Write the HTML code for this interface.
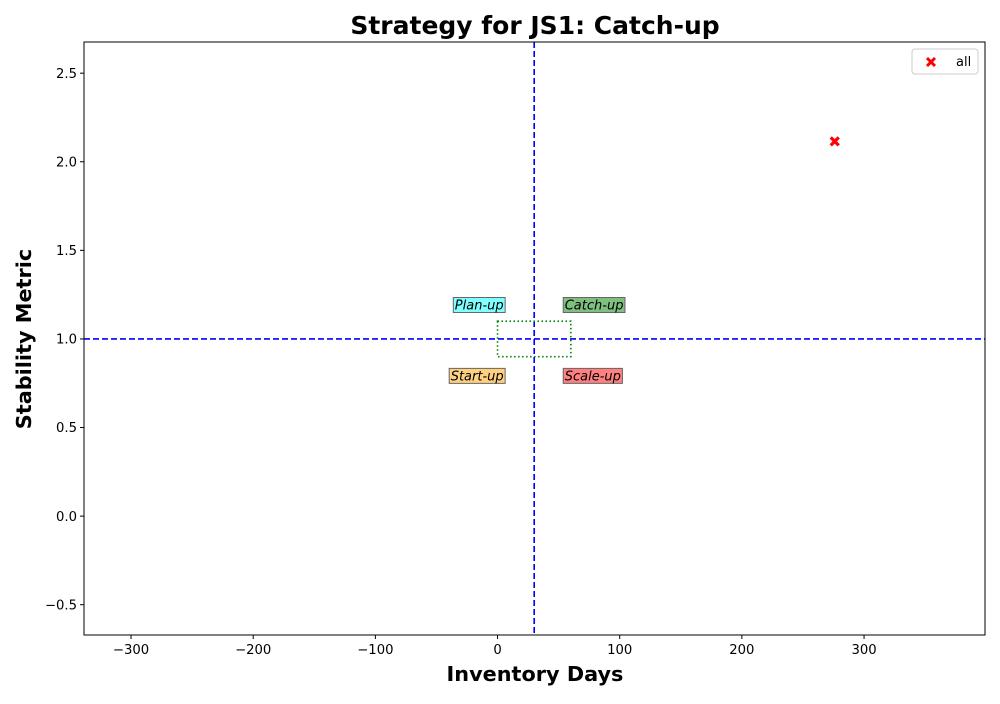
<!DOCTYPE html>
<html><head><meta charset="utf-8"><style>
body{margin:0;background:#fff;font-family:"DejaVu Sans","Liberation Sans",sans-serif}
svg text{font-family:"DejaVu Sans","Liberation Sans",sans-serif}
</style></head><body>
<svg id="chart" width="1000" height="700" xmlns="http://www.w3.org/2000/svg"></svg>
<script>
const xTicks=[-300,-200,-100,0,100,200,300];
const yTicks=[-0.5,0.0,0.5,1.0,1.5,2.0,2.5];
const yTickLabels=["\u22120.5","0.0","0.5","1.0","1.5","2.0","2.5"];
const xTickLabels=["\u2212300","\u2212200","\u2212100","0","100","200","300"];
const pointsX=[276];
const pointsY=[2.115];
const vLineX=30, hLineY=1.0;
const boxX=[0,60], boxY=[0.9,1.1];
const quadLabels=["Plan-up","Catch-up","Start-up","Scale-up"];
const quadX=[5,55,5,55];
const quadY=[1.2,1.2,0.8,0.8];
const quadColors=["#7fffff","#7fbf7f","#ffd080","#ff8080"];

const L=84,R=985,T=42,B=635;
const xMin=-338.5,xMax=399.0,yMin=-0.671,yMax=2.676;
const sx=v=>L+(v-xMin)/(xMax-xMin)*(R-L);
const sy=v=>B-(v-yMin)/(yMax-yMin)*(B-T);
const svg=document.getElementById('chart');
const NS='http://www.w3.org/2000/svg';
function mk(tag,attrs,parent){const e=document.createElementNS(NS,tag);for(const k in attrs)e.setAttribute(k,attrs[k]);(parent||svg).appendChild(e);return e;}

let t=mk('text',{x:535,y:34,'text-anchor':'middle','font-size':25,'font-weight':'bold'});
t.textContent='Strategy for JS1: Catch-up';



xTicks.forEach((v,i)=>{const x=sx(v);
 const l=mk('line',{x1:x,x2:x,y1:B,y2:B+4,stroke:'#000'});
 
 
 const tx=mk('text',{x:x,y:B+19,'text-anchor':'middle','font-size':13.2});
 tx.textContent=xTickLabels[i];
 
 
});
yTicks.forEach((v,i)=>{const y=sy(v);
 const l=mk('line',{x1:L-4,x2:L,y1:y,y2:y,stroke:'#000'});
 
 
 const tx=mk('text',{x:L-7,y:y+4.7,'text-anchor':'end','font-size':13.2});
 tx.textContent=yTickLabels[i];
 
 
});
t=mk('text',{x:535,y:681,'text-anchor':'middle','font-size':20.8,'font-weight':'bold'});
t.textContent='Inventory Days';


t=mk('text',{x:0,y:0,'text-anchor':'middle','font-size':20.8,'font-weight':'bold',transform:'translate(31,339) rotate(-90)'});
t.textContent='Stability Metric';



let e=mk('line',{x1:sx(vLineX),x2:sx(vLineX),y1:T,y2:B,stroke:'#0000ff','stroke-width':1.6,'stroke-dasharray':'6,3'});


e=mk('line',{x1:L,x2:R,y1:sy(hLineY),y2:sy(hLineY),stroke:'#0000ff','stroke-width':1.6,'stroke-dasharray':'6,3'});


e=mk('rect',{x:sx(boxX[0]),y:sy(boxY[1]),width:sx(boxX[1])-sx(boxX[0]),height:sy(boxY[0])-sy(boxY[1]),fill:'none',stroke:'#008000','stroke-width':1.6,'stroke-dasharray':'1.5,2.5'});



quadLabels.forEach((s,i)=>{
 const g=mk('g',{});
 
 
 const tx=mk('text',{x:0,y:sy(quadY[i])+6,'font-size':13,'font-style':'italic'},g);
 tx.textContent=s;
 const w=tx.getComputedTextLength();
 const right=i%2===0;
 const x0=right?sx(quadX[i])-w:sx(quadX[i]);
 tx.setAttribute('x',x0);
 const r=mk('rect',{x:x0-1.5,y:sy(quadY[i])-6,width:w+3,height:15,fill:quadColors[i],stroke:'#666','stroke-width':1});
 g.insertBefore(r,tx);
});

pointsX.forEach((v,i)=>{const x=sx(v),y=sy(pointsY[i]);
 const p=mk('path',{d:`M${x-4} ${y-4}L${x+4} ${y+4}M${x+4} ${y-4}L${x-4} ${y+4}`,stroke:'#ff0000','stroke-width':3.2});
 
 
});

e=mk('rect',{x:L,y:T,width:R-L,height:B-T,fill:'none',stroke:'#000','stroke-width':1});



const lg=mk('g',{});


mk('rect',{x:912,y:49,width:66,height:25,rx:3,fill:'#fff',stroke:'#ccc'},lg);
mk('path',{d:'M927 58L935 66M935 58L927 66',stroke:'#ff0000','stroke-width':3},lg);
const lt=mk('text',{x:956,y:66,'font-size':13},lg);lt.textContent='all';
</script>
</body></html>
